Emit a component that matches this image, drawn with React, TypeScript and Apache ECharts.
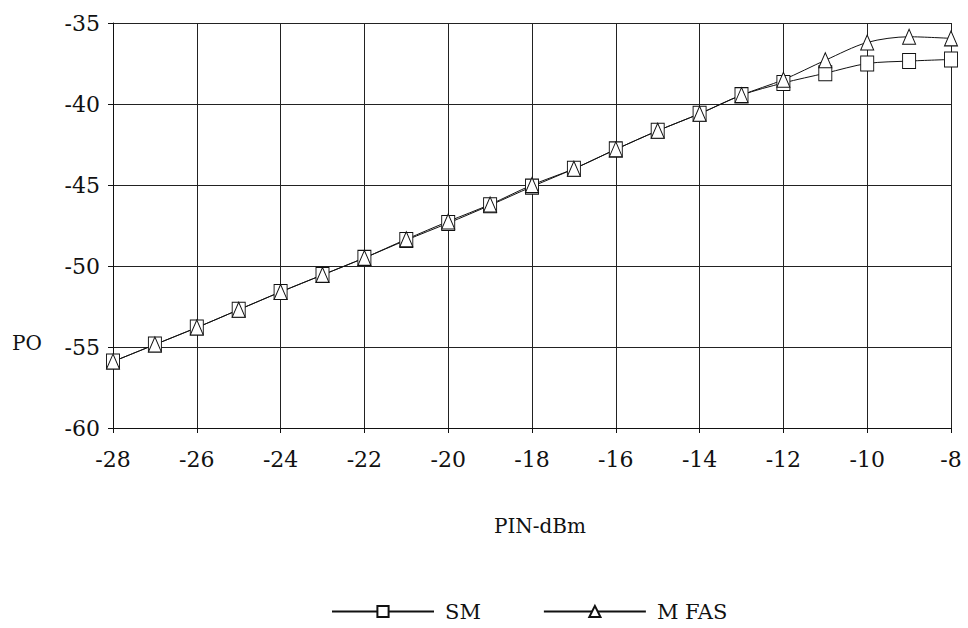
import React, { useEffect, useRef } from "react";
import * as echarts from "echarts";

const pinValues = [-28, -27, -26, -25, -24, -23, -22, -21, -20, -19, -18, -17, -16, -15, -14, -13, -12, -11, -10, -9, -8];
const smValues = [-55.9, -54.85, -53.8, -52.7, -51.6, -50.55, -49.5, -48.4, -47.35, -46.25, -45.1, -44.0, -42.8, -41.65, -40.6, -39.45, -38.7, -38.1, -37.5, -37.35, -37.25];
const mfasValues = [-55.9, -54.85, -53.8, -52.7, -51.6, -50.55, -49.5, -48.35, -47.25, -46.2, -45.0, -44.0, -42.8, -41.65, -40.6, -39.45, -38.5, -37.3, -36.2, -35.85, -35.95];
const seriesNames = ["SM", "M FAS"];

const FONT = "DejaVu Serif";

export default function App() {
  const ref = useRef<HTMLDivElement>(null);
  useEffect(() => {
    if (!ref.current) return;
    const chart = echarts.init(ref.current, undefined, { renderer: "svg" });
    const toPairs = (ys: number[]) => pinValues.map((x, i) => [x, ys[i]]);
    chart.setOption({
      animation: false,
      backgroundColor: "#ffffff",
      grid: { left: 113, right: 17, top: 23, bottom: 200 },
      xAxis: {
        type: "value",
        min: -28,
        max: -8,
        interval: 2,
        name: "PIN-dBm",
        nameLocation: "middle",
        nameGap: 88,
        nameTextStyle: { fontFamily: FONT, fontSize: 20, color: "#111", padding: [0, 0, 0, 16] },
        axisLine: { show: true, onZero: false, lineStyle: { color: "#111", width: 1 } },
        axisTick: { show: true, inside: false, length: 5, lineStyle: { color: "#111" } },
        axisLabel: { fontFamily: FONT, fontSize: 22, color: "#111", margin: 20 },
        splitLine: { show: true, lineStyle: { color: "#222", width: 1 } },
      },
      yAxis: {
        type: "value",
        min: -60,
        max: -35,
        interval: 5,
        axisLine: { show: true, onZero: false, lineStyle: { color: "#111", width: 1 } },
        axisTick: { show: true, length: 5, lineStyle: { color: "#111" } },
        axisLabel: { fontFamily: FONT, fontSize: 22, color: "#111", margin: 13 },
        splitLine: { show: true, lineStyle: { color: "#222", width: 1 } },
      },
      graphic: [
        {
          type: "text",
          left: 12,
          top: 333,
          style: { text: "PO", font: `20px '${FONT}'`, fill: "#111" },
        },
      ],
      legend: {
        top: 596,
        left: 326,
        itemWidth: 102,
        itemHeight: 14,
        itemGap: 62,
        textStyle: { fontFamily: FONT, fontSize: 21, color: "#111", padding: [0, 0, 0, 6] },
        data: seriesNames,
      },
      series: [
        {
          name: seriesNames[0],
          type: "line",
          data: toPairs(smValues),
          smooth: 0.3,
          symbol: "rect",
          symbolSize: [13, 15],
          lineStyle: { color: "#111", width: 1 },
          itemStyle: { color: "#fff", borderColor: "#111", borderWidth: 1 },
        },
        {
          name: seriesNames[1],
          type: "line",
          data: toPairs(mfasValues),
          smooth: 0.3,
          symbol: "triangle",
          symbolSize: [13, 15],
          lineStyle: { color: "#111", width: 1 },
          itemStyle: { color: "#fff", borderColor: "#111", borderWidth: 1 },
        },
      ],
    });
    return () => chart.dispose();
  }, []);
  return (
    <div
      ref={ref}
      style={{ position: "fixed", left: 0, top: 0, width: 968, height: 628 }}
    />
  );
}
